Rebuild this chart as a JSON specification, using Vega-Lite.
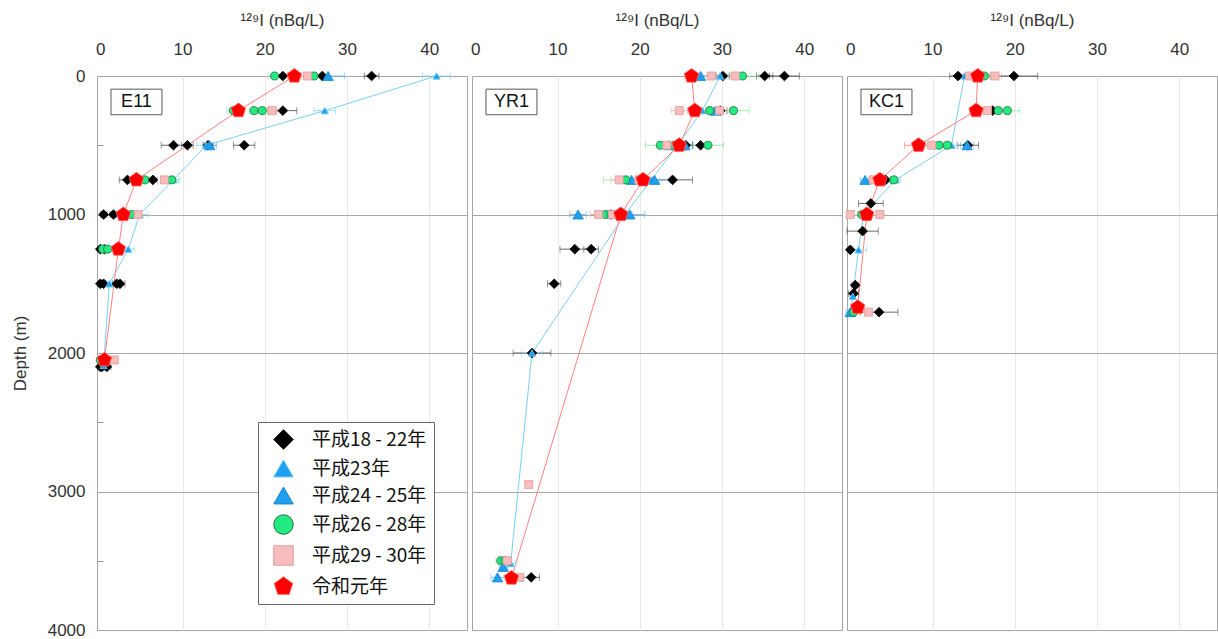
{
"$schema": "https://vega.github.io/schema/vega-lite/v6.json",
"padding": {"left": 11, "top": 11, "right": 0, "bottom": 0},
"background": "white",
"config": {
  "view": {"stroke": "#a6a6a6", "strokeWidth": 1},
  "axis": {"labelFont": "Liberation Sans", "titleFont": "Liberation Sans", "labelColor": "#333", "titleColor": "#333", "labelFontSize": 17, "titleFontSize": 17, "titleFontWeight": "normal"},
  "legend": {"labelFont": "Noto Sans CJK JP"}
},
"data": {"values": [
{"site":"E11","series":"平成18 - 22年","depth":0,"value":22.2,"err":0.8},
{"site":"E11","series":"平成18 - 22年","depth":0,"value":27.0,"err":0.8},
{"site":"E11","series":"平成18 - 22年","depth":0,"value":33.0,"err":0.9},
{"site":"E11","series":"平成18 - 22年","depth":250,"value":22.2,"err":1.7},
{"site":"E11","series":"平成18 - 22年","depth":500,"value":8.9,"err":1.5},
{"site":"E11","series":"平成18 - 22年","depth":500,"value":10.6,"err":0.7},
{"site":"E11","series":"平成18 - 22年","depth":500,"value":13.1,"err":0.6},
{"site":"E11","series":"平成18 - 22年","depth":500,"value":17.5,"err":1.3},
{"site":"E11","series":"平成18 - 22年","depth":750,"value":3.3,"err":1.0},
{"site":"E11","series":"平成18 - 22年","depth":750,"value":4.0,"err":0.5},
{"site":"E11","series":"平成18 - 22年","depth":750,"value":6.4,"err":0.5},
{"site":"E11","series":"平成18 - 22年","depth":1000,"value":0.4,"err":0.4},
{"site":"E11","series":"平成18 - 22年","depth":1000,"value":1.6,"err":0.4},
{"site":"E11","series":"平成18 - 22年","depth":1250,"value":0.0,"err":0.2},
{"site":"E11","series":"平成18 - 22年","depth":1250,"value":0.5,"err":0.2},
{"site":"E11","series":"平成18 - 22年","depth":1500,"value":0.0,"err":0.2},
{"site":"E11","series":"平成18 - 22年","depth":1500,"value":0.4,"err":0.2},
{"site":"E11","series":"平成18 - 22年","depth":1500,"value":2.0,"err":0.5},
{"site":"E11","series":"平成18 - 22年","depth":1500,"value":2.4,"err":0.6},
{"site":"E11","series":"平成18 - 22年","depth":2100,"value":0.0,"err":0.3},
{"site":"E11","series":"平成18 - 22年","depth":2100,"value":0.2,"err":0.3},
{"site":"E11","series":"平成18 - 22年","depth":2100,"value":0.8,"err":0.5},
{"site":"E11","series":"平成23年","depth":0,"value":40.9,"err":1.7},
{"site":"E11","series":"平成23年","depth":250,"value":27.3,"err":1.3},
{"site":"E11","series":"平成23年","depth":500,"value":12.9,"err":1.2},
{"site":"E11","series":"平成23年","depth":750,"value":8.9,"err":0.6},
{"site":"E11","series":"平成23年","depth":1000,"value":4.8,"err":1.0},
{"site":"E11","series":"平成23年","depth":1250,"value":3.4,"err":0.7},
{"site":"E11","series":"平成23年","depth":1500,"value":1.1,"err":0.3},
{"site":"E11","series":"平成23年","depth":2090,"value":0.4,"err":0.3},
{"site":"E11","series":"平成24 - 25年","depth":0,"value":27.7,"err":2.0},
{"site":"E11","series":"平成24 - 25年","depth":500,"value":13.3,"err":0.8},
{"site":"E11","series":"平成26 - 28年","depth":0,"value":21.2,"err":0.8},
{"site":"E11","series":"平成26 - 28年","depth":0,"value":26.0,"err":0.8},
{"site":"E11","series":"平成26 - 28年","depth":250,"value":16.2,"err":0.8},
{"site":"E11","series":"平成26 - 28年","depth":250,"value":18.7,"err":0.6},
{"site":"E11","series":"平成26 - 28年","depth":250,"value":19.7,"err":0.6},
{"site":"E11","series":"平成26 - 28年","depth":750,"value":5.4,"err":0.5},
{"site":"E11","series":"平成26 - 28年","depth":750,"value":8.7,"err":1.0},
{"site":"E11","series":"平成26 - 28年","depth":1000,"value":3.8,"err":0.4},
{"site":"E11","series":"平成26 - 28年","depth":1250,"value":0.3,"err":0.2},
{"site":"E11","series":"平成26 - 28年","depth":1250,"value":0.9,"err":0.3},
{"site":"E11","series":"平成26 - 28年","depth":2050,"value":0.0,"err":0.3},
{"site":"E11","series":"平成29 - 30年","depth":0,"value":25.2,"err":0.8},
{"site":"E11","series":"平成29 - 30年","depth":250,"value":20.9,"err":0.6},
{"site":"E11","series":"平成29 - 30年","depth":750,"value":7.8,"err":0.5},
{"site":"E11","series":"平成29 - 30年","depth":1000,"value":4.6,"err":0.4},
{"site":"E11","series":"平成29 - 30年","depth":2050,"value":1.7,"err":0.3},
{"site":"E11","series":"令和元年","depth":0,"value":23.6,"err":0.8},
{"site":"E11","series":"令和元年","depth":250,"value":16.8,"err":0.7},
{"site":"E11","series":"令和元年","depth":750,"value":4.4,"err":0.5},
{"site":"E11","series":"令和元年","depth":1000,"value":2.8,"err":0.4},
{"site":"E11","series":"令和元年","depth":1250,"value":2.2,"err":0.4},
{"site":"E11","series":"令和元年","depth":2050,"value":0.5,"err":0.3},
{"site":"YR1","series":"平成18 - 22年","depth":0,"value":30.1,"err":0.8},
{"site":"YR1","series":"平成18 - 22年","depth":0,"value":35.2,"err":1.0},
{"site":"YR1","series":"平成18 - 22年","depth":0,"value":37.6,"err":1.8},
{"site":"YR1","series":"平成18 - 22年","depth":250,"value":29.8,"err":0.8},
{"site":"YR1","series":"平成18 - 22年","depth":500,"value":25.6,"err":0.8},
{"site":"YR1","series":"平成18 - 22年","depth":500,"value":27.4,"err":1.0},
{"site":"YR1","series":"平成18 - 22年","depth":750,"value":24.0,"err":2.4},
{"site":"YR1","series":"平成18 - 22年","depth":1000,"value":16.5,"err":0.8},
{"site":"YR1","series":"平成18 - 22年","depth":1250,"value":12.1,"err":1.8},
{"site":"YR1","series":"平成18 - 22年","depth":1250,"value":14.1,"err":0.9},
{"site":"YR1","series":"平成18 - 22年","depth":1500,"value":9.6,"err":0.8},
{"site":"YR1","series":"平成18 - 22年","depth":2000,"value":6.9,"err":2.3},
{"site":"YR1","series":"平成18 - 22年","depth":3620,"value":6.8,"err":1.0},
{"site":"YR1","series":"平成23年","depth":0,"value":29.8,"err":1.0},
{"site":"YR1","series":"平成23年","depth":250,"value":27.6,"err":1.0},
{"site":"YR1","series":"平成23年","depth":500,"value":24.6,"err":1.0},
{"site":"YR1","series":"平成23年","depth":750,"value":21.4,"err":1.0},
{"site":"YR1","series":"平成23年","depth":1000,"value":18.2,"err":1.0},
{"site":"YR1","series":"平成23年","depth":2000,"value":6.9,"err":1.3},
{"site":"YR1","series":"平成23年","depth":3520,"value":4.3,"err":0.6},
{"site":"YR1","series":"平成24 - 25年","depth":0,"value":27.4,"err":1.0},
{"site":"YR1","series":"平成24 - 25年","depth":250,"value":29.2,"err":1.0},
{"site":"YR1","series":"平成24 - 25年","depth":500,"value":23.6,"err":1.0},
{"site":"YR1","series":"平成24 - 25年","depth":500,"value":25.5,"err":1.0},
{"site":"YR1","series":"平成24 - 25年","depth":750,"value":19.0,"err":1.0},
{"site":"YR1","series":"平成24 - 25年","depth":750,"value":21.8,"err":1.8},
{"site":"YR1","series":"平成24 - 25年","depth":1000,"value":12.5,"err":1.0},
{"site":"YR1","series":"平成24 - 25年","depth":1000,"value":18.8,"err":1.8},
{"site":"YR1","series":"平成24 - 25年","depth":3545,"value":3.4,"err":0.5},
{"site":"YR1","series":"平成24 - 25年","depth":3620,"value":2.7,"err":0.8},
{"site":"YR1","series":"平成26 - 28年","depth":0,"value":32.5,"err":2.0},
{"site":"YR1","series":"平成26 - 28年","depth":250,"value":28.5,"err":1.0},
{"site":"YR1","series":"平成26 - 28年","depth":250,"value":31.4,"err":1.9},
{"site":"YR1","series":"平成26 - 28年","depth":500,"value":22.5,"err":1.8},
{"site":"YR1","series":"平成26 - 28年","depth":500,"value":24.2,"err":1.0},
{"site":"YR1","series":"平成26 - 28年","depth":500,"value":28.3,"err":1.9},
{"site":"YR1","series":"平成26 - 28年","depth":750,"value":18.3,"err":2.7},
{"site":"YR1","series":"平成26 - 28年","depth":1000,"value":15.9,"err":1.0},
{"site":"YR1","series":"平成26 - 28年","depth":1000,"value":16.5,"err":1.0},
{"site":"YR1","series":"平成26 - 28年","depth":3500,"value":3.1,"err":0.6},
{"site":"YR1","series":"平成26 - 28年","depth":3500,"value":3.6,"err":0.6},
{"site":"YR1","series":"平成29 - 30年","depth":0,"value":28.7,"err":1.0},
{"site":"YR1","series":"平成29 - 30年","depth":0,"value":31.6,"err":1.0},
{"site":"YR1","series":"平成29 - 30年","depth":250,"value":24.8,"err":1.0},
{"site":"YR1","series":"平成29 - 30年","depth":250,"value":29.7,"err":1.0},
{"site":"YR1","series":"平成29 - 30年","depth":500,"value":23.3,"err":1.0},
{"site":"YR1","series":"平成29 - 30年","depth":750,"value":17.5,"err":1.0},
{"site":"YR1","series":"平成29 - 30年","depth":750,"value":19.9,"err":1.0},
{"site":"YR1","series":"平成29 - 30年","depth":1000,"value":15.0,"err":1.0},
{"site":"YR1","series":"平成29 - 30年","depth":1000,"value":16.7,"err":1.0},
{"site":"YR1","series":"平成29 - 30年","depth":2950,"value":6.5,"err":0},
{"site":"YR1","series":"平成29 - 30年","depth":3500,"value":3.9,"err":0.3},
{"site":"YR1","series":"平成29 - 30年","depth":3620,"value":5.4,"err":0.3},
{"site":"YR1","series":"令和元年","depth":0,"value":26.3,"err":0.8},
{"site":"YR1","series":"令和元年","depth":250,"value":26.7,"err":0.8},
{"site":"YR1","series":"令和元年","depth":500,"value":24.8,"err":0.8},
{"site":"YR1","series":"令和元年","depth":750,"value":20.4,"err":0.8},
{"site":"YR1","series":"令和元年","depth":1000,"value":17.7,"err":0.8},
{"site":"YR1","series":"令和元年","depth":3625,"value":4.4,"err":0.5},
{"site":"KC1","series":"平成18 - 22年","depth":0,"value":13.1,"err":1.0},
{"site":"KC1","series":"平成18 - 22年","depth":0,"value":19.9,"err":2.9},
{"site":"KC1","series":"平成18 - 22年","depth":250,"value":17.3,"err":0.8},
{"site":"KC1","series":"平成18 - 22年","depth":500,"value":14.3,"err":1.3},
{"site":"KC1","series":"平成18 - 22年","depth":750,"value":4.3,"err":0.6},
{"site":"KC1","series":"平成18 - 22年","depth":920,"value":2.5,"err":1.5},
{"site":"KC1","series":"平成18 - 22年","depth":1120,"value":1.5,"err":1.9},
{"site":"KC1","series":"平成18 - 22年","depth":1255,"value":0.0,"err":0.2},
{"site":"KC1","series":"平成18 - 22年","depth":1510,"value":0.6,"err":0.4},
{"site":"KC1","series":"平成18 - 22年","depth":1570,"value":0.4,"err":0.6},
{"site":"KC1","series":"平成18 - 22年","depth":1705,"value":3.5,"err":2.3},
{"site":"KC1","series":"平成23年","depth":0,"value":13.9,"err":1.0},
{"site":"KC1","series":"平成23年","depth":500,"value":12.3,"err":0.8},
{"site":"KC1","series":"平成23年","depth":750,"value":5.5,"err":0.6},
{"site":"KC1","series":"平成23年","depth":1000,"value":1.6,"err":0.5},
{"site":"KC1","series":"平成23年","depth":1255,"value":1.0,"err":1.0},
{"site":"KC1","series":"平成23年","depth":1590,"value":0.3,"err":0.3},
{"site":"KC1","series":"平成23年","depth":1700,"value":0.0,"err":0.3},
{"site":"KC1","series":"平成24 - 25年","depth":500,"value":14.2,"err":0.8},
{"site":"KC1","series":"平成24 - 25年","depth":750,"value":1.8,"err":0.6},
{"site":"KC1","series":"平成24 - 25年","depth":1705,"value":0.0,"err":0.5},
{"site":"KC1","series":"平成26 - 28年","depth":0,"value":16.3,"err":0.8},
{"site":"KC1","series":"平成26 - 28年","depth":250,"value":18.0,"err":0.8},
{"site":"KC1","series":"平成26 - 28年","depth":250,"value":19.1,"err":1.5},
{"site":"KC1","series":"平成26 - 28年","depth":500,"value":10.8,"err":0.8},
{"site":"KC1","series":"平成26 - 28年","depth":500,"value":11.8,"err":0.8},
{"site":"KC1","series":"平成26 - 28年","depth":750,"value":5.3,"err":0.6},
{"site":"KC1","series":"平成26 - 28年","depth":1000,"value":1.4,"err":0.5},
{"site":"KC1","series":"平成26 - 28年","depth":1705,"value":0.4,"err":0.4},
{"site":"KC1","series":"平成29 - 30年","depth":0,"value":14.5,"err":0.8},
{"site":"KC1","series":"平成29 - 30年","depth":0,"value":17.6,"err":0.8},
{"site":"KC1","series":"平成29 - 30年","depth":250,"value":16.7,"err":0.8},
{"site":"KC1","series":"平成29 - 30年","depth":500,"value":9.9,"err":0.8},
{"site":"KC1","series":"平成29 - 30年","depth":750,"value":2.8,"err":0.6},
{"site":"KC1","series":"平成29 - 30年","depth":1000,"value":0.0,"err":0.3},
{"site":"KC1","series":"平成29 - 30年","depth":1000,"value":3.6,"err":0.3},
{"site":"KC1","series":"平成29 - 30年","depth":1705,"value":2.2,"err":0.4},
{"site":"KC1","series":"令和元年","depth":0,"value":15.5,"err":0.8},
{"site":"KC1","series":"令和元年","depth":250,"value":15.3,"err":0.8},
{"site":"KC1","series":"令和元年","depth":500,"value":8.3,"err":1.7},
{"site":"KC1","series":"令和元年","depth":750,"value":3.6,"err":0.6},
{"site":"KC1","series":"令和元年","depth":1000,"value":2.0,"err":0.5},
{"site":"KC1","series":"令和元年","depth":1670,"value":0.9,"err":0.5}
]},
"facet": {"column": {"field": "site", "type": "nominal", "sort": ["E11", "YR1", "KC1"], "header": {"labels": false, "title": null}}},
"spacing": 5,
"bounds": "flush",
"spec": {
  "width": 370,
  "height": 554,
  "encoding": {
    "x": {"field": "value", "type": "quantitative", "scale": {"domain": [-0.4, 44.6], "nice": false, "zero": false},
      "axis": {"orient": "top", "values": [0, 10, 20, 30, 40], "title": "¹²⁹I (nBq/L)", "titlePadding": 11, "labelPadding": 18, "labelFlush": false, "ticks": false, "domain": false,
        "gridColor": {"condition": {"test": "datum.value === 0", "value": "transparent"}, "value": "#e8e8e8"}}},
    "y": {"field": "depth", "type": "quantitative", "scale": {"domain": [0, 4000], "reverse": true, "nice": false},
      "axis": {"values": [0, 500, 1000, 1500, 2000, 2500, 3000, 3500, 4000], "format": "d", "labelExpr": "datum.value % 1000 === 0 ? datum.label : ''",
        "title": "Depth (m)", "titlePadding": 18, "labelPadding": 18, "ticks": true, "tickSize": -6, "tickColor": "#999999", "domain": false,
        "gridColor": {"condition": {"test": "datum.value === 1000 || datum.value === 2000 || datum.value === 3000", "value": "#a8a8a8"}, "value": "transparent"}}}
  },
  "layer": [
    {
      "transform": [{"filter": "datum.depth === 0 && datum.series === '令和元年'"}],
      "mark": {"type": "rect", "fill": "white", "stroke": "#555", "strokeWidth": 1},
      "encoding": {"x": {"datum": 1.3}, "x2": {"datum": 7.5}, "y": {"datum": 95}, "y2": {"datum": 280}}
    },
    {
      "transform": [{"filter": "datum.depth === 0 && datum.series === '令和元年'"}],
      "mark": {"type": "text", "font": "Liberation Sans", "fontSize": 18, "color": "#111", "align": "center", "baseline": "middle"},
      "encoding": {"x": {"datum": 4.4}, "y": {"datum": 187}, "text": {"field": "site"}}
    },
    {
      "transform": [{"filter": "datum.series === '平成23年'"}],
      "mark": {"type": "line", "stroke": "#7ccff5", "strokeWidth": 1},
      "encoding": {"order": {"field": "depth", "type": "quantitative"}}
    },
    {
      "transform": [{"filter": "datum.series === '令和元年'"}],
      "mark": {"type": "line", "stroke": "#ff8080", "strokeWidth": 1},
      "encoding": {"order": {"field": "depth", "type": "quantitative"}}
    },
    {
      "mark": {"type": "errorbar", "ticks": {"size": 7}, "thickness": 0.8},
      "encoding": {
        "xError": {"field": "err"},
        "color": {"field": "series", "type": "nominal", "legend": null,
          "scale": {"domain": ["令和元年", "平成29 - 30年", "平成26 - 28年", "平成24 - 25年", "平成23年", "平成18 - 22年"],
            "range": ["#ff7a7a", "#e8a8a8", "#86ee98", "#5cb6ec", "#86d2f5", "#444444"]}}
      }
    },
    {
      "mark": {"type": "point", "filled": true, "strokeWidth": 0.8, "opacity": 1},
      "encoding": {
        "shape": {"field": "series", "type": "nominal",
          "scale": {"domain": ["平成18 - 22年", "平成23年", "平成24 - 25年", "平成26 - 28年", "平成29 - 30年", "令和元年"],
            "range": ["diamond", "triangle-up", "triangle-up", "circle", "square", "M0,-1L0.951,-0.309L0.588,0.809L-0.588,0.809L-0.951,-0.309Z"]},
          "legend": {"orient": "none", "legendX": 161, "legendY": 346, "title": null, "labelFont": "Noto Sans CJK JP", "labelFontSize": 19, "labelColor": "#111",
            "symbolSize": 380, "labelOffset": 18, "rowPadding": 6, "padding": 7, "symbolOffset": 8, "strokeColor": "#666", "fillColor": "#ffffff", "symbolStrokeWidth": 1}},
        "fill": {"field": "series", "type": "nominal",
          "scale": {"domain": ["平成18 - 22年", "平成23年", "平成24 - 25年", "平成26 - 28年", "平成29 - 30年", "令和元年"],
            "range": ["#000000", "#1e9fef", "#1e9fef", "#22ea80", "#f7bcbc", "#ff0000"]}},
        "stroke": {"field": "series", "type": "nominal",
          "scale": {"domain": ["平成18 - 22年", "平成23年", "平成24 - 25年", "平成26 - 28年", "平成29 - 30年", "令和元年"],
            "range": ["#000000", "#6cc8f3", "#1b86c9", "#2f6a45", "#de9c9c", "#ff6a6a"]}},
        "size": {"condition": [
          {"test": "datum.series === '令和元年'", "value": 230},
          {"test": "datum.series === '平成24 - 25年'", "value": 110},
          {"test": "datum.series === '平成23年'", "value": 55},
          {"test": "datum.series === '平成18 - 22年'", "value": 95}
        ], "value": 65}
      }
    }
  ]
}
}
